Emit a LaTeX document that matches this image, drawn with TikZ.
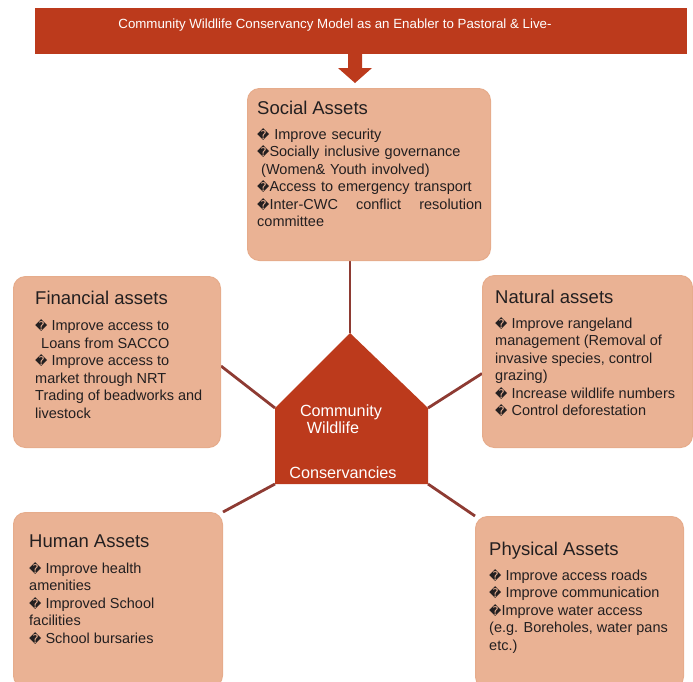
\documentclass[tikz,border=0pt]{standalone}
\usepackage{fontspec}
\setmainfont{Liberation Sans}
\newfontfamily\symfont{DejaVu Sans}
\usetikzlibrary{positioning,backgrounds}

\definecolor{cwcred}{HTML}{BC3A1C}
\definecolor{assetfill}{HTML}{EAB294}
\definecolor{assetedge}{HTML}{E6AC8C}
\definecolor{linkbrown}{HTML}{8E3B33}
\definecolor{inktext}{HTML}{231F20}

\newcommand{\qm}{{\symfont\fontsize{12}{12}\selectfont\char"FFFD}}
\newcommand{\assettitle}[1]{{\fontsize{18.5}{22}\selectfont #1}}

\tikzset{
  assetbox/.style={draw=assetedge, line width=1pt, fill=assetfill,
    rounded corners=12pt, anchor=north west, inner sep=0pt},
  assettext/.style={inner sep=0pt, align=left, text=inktext,
    font=\fontsize{14.5}{17.5}\selectfont},
  link/.style={draw=linkbrown, line width=2.8pt},
  cwclabel/.style={text=white, font=\fontsize{16.2}{19}\selectfont, inner sep=0pt}
}

\begin{document}
\begin{tikzpicture}[x=1pt, y=-1pt]

\useasboundingbox (0,0) rectangle (693,681);

% banner and arrow
\node[fill=cwcred, minimum width=652pt, minimum height=46pt, anchor=north west,
  inner sep=0pt] (banner) at (35,8) {};
\node[text=white, font=\fontsize{13.3}{15}\selectfont, inner sep=0pt] (bannertext) at (335,25)
  {Community Wildlife Conservancy Model as an Enabler to Pastoral \& Live-};
\fill[cwcred] (348,52) -- ++(0,16) -- ++(-10,0) -- ++(17,15)
  -- ++(17,-15) -- ++(-10,0) -- ++(0,-16) -- cycle;

% asset boxes
\node[assetbox, minimum width=243pt, minimum height=172pt] (social) at (247,88) {};
\node[assetbox, minimum width=207pt, minimum height=171pt] (financial) at (13,276) {};
\node[assetbox, minimum width=210pt, minimum height=172pt] (natural) at (482,275) {};
\node[assetbox, minimum width=209pt, minimum height=175pt] (human) at (13,512) {};
\node[assetbox, minimum width=208pt, minimum height=172pt] (physical) at (475,516) {};

% box texts
\node[assettext, text width=225pt, below right=13pt and 10pt of social.north west] (socialtext) {%
  \assettitle{Social Assets}\\[7pt]
  \qm{} Improve security\\
  \qm Socially inclusive governance\\
  \hspace*{4pt}(Women\& Youth involved)\\
  \qm Access to emergency transport\\
  \qm Inter-CWC\hspace{\fill}conflict\hspace{\fill}resolution\\
  committee};
\node[assettext, below right=15pt and 22pt of financial.north west] (financialtext) {%
  \assettitle{Financial assets}\\[8.5pt]
  \qm{} Improve access to\\
  \hspace*{6pt}Loans from SACCO\\
  \qm{} Improve access to\\
  market through NRT\\
  Trading of beadworks and\\
  livestock};
\node[assettext, below right=15pt and 13pt of natural.north west] (naturaltext) {%
  \assettitle{Natural assets}\\[7pt]
  \qm{} Improve rangeland\\
  management (Removal of\\
  invasive species, control\\
  grazing)\\
  \qm{} Increase wildlife numbers\\
  \qm{} Control deforestation};
\node[assettext, below right=23pt and 16pt of human.north west] (humantext) {%
  \assettitle{Human Assets}\\[8pt]
  \qm{} Improve health\\
  amenities\\
  \qm{} Improved School\\
  facilities\\
  \qm{} School bursaries};
\node[assettext, below right=26pt and 14pt of physical.north west] (physicaltext) {%
  \assettitle{Physical Assets}\\[7pt]
  \qm{} Improve access roads\\
  \qm{} Improve communication\\
  \qm Improve water access\\
  (e.g. Boreholes, water pans\\
  etc.)};

% conservancy house
\coordinate (apex) at (350,333);
\coordinate (lsh) at (275,408);
\coordinate (rsh) at (428,408);
\coordinate (lbot) at (275,484);
\coordinate (rbot) at (428,484);
\fill[cwcred] (apex) -- (rsh) -- (rbot) -- (lbot) -- (lsh) -- cycle;
\node[cwclabel] (cwcone) at (341,412) {Community};
\node[cwclabel] (cwctwo) at (333,428) {Wildlife};
\node[cwclabel] (cwcthree) at (343,473) {Conservancies};

% connectors
\begin{pgfonlayer}{background}
\draw[link] (social.south -| apex) -- (apex);
\draw[link] ([yshift=-4pt]financial.east) -- (lsh);
\draw[link] ([yshift=-12pt]natural.west) -- (rsh);
\draw[link] (human.north east) -- (lbot);
\draw[link] (physical.north west) -- (rbot);
\end{pgfonlayer}

\end{tikzpicture}
\end{document}
